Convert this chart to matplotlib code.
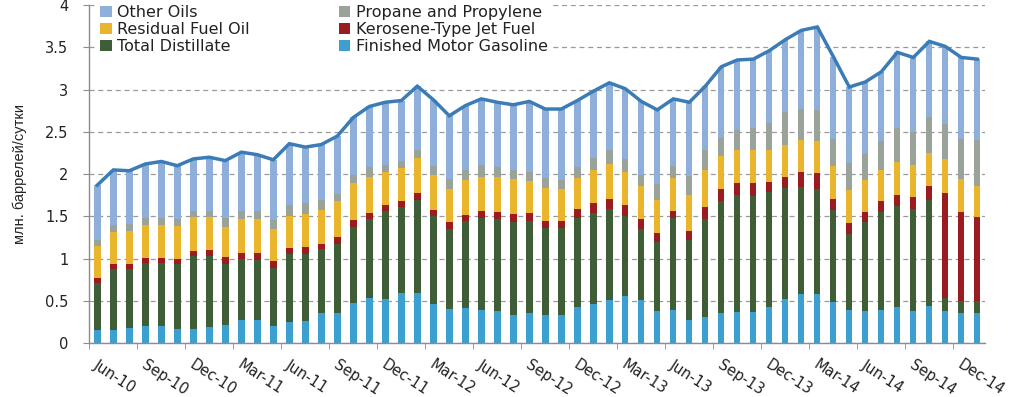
import matplotlib
matplotlib.use("Agg")
import matplotlib.pyplot as plt
import matplotlib.transforms as mtransforms
import numpy as np

months = ["Jun-10","Jul-10","Aug-10","Sep-10","Oct-10","Nov-10","Dec-10",
          "Jan-11","Feb-11","Mar-11","Apr-11","May-11","Jun-11","Jul-11","Aug-11","Sep-11","Oct-11","Nov-11","Dec-11",
          "Jan-12","Feb-12","Mar-12","Apr-12","May-12","Jun-12","Jul-12","Aug-12","Sep-12","Oct-12","Nov-12","Dec-12",
          "Jan-13","Feb-13","Mar-13","Apr-13","May-13","Jun-13","Jul-13","Aug-13","Sep-13","Oct-13","Nov-13","Dec-13",
          "Jan-14","Feb-14","Mar-14","Apr-14","May-14","Jun-14","Jul-14","Aug-14","Sep-14","Oct-14","Nov-14","Dec-14",
          "Jan-15"]

gasoline = [0.16,0.16,0.18,0.20,0.20,0.17,0.17,0.19,0.22,0.27,0.27,0.21,0.25,0.26,0.36,0.36,
            0.48,0.53,0.52,0.60,0.60,0.47,0.40,0.42,0.39,0.38,0.33,0.36,0.34,0.33,0.43,0.47,
            0.51,0.56,0.51,0.38,0.39,0.28,0.31,0.36,0.37,0.37,0.43,0.52,0.58,0.58,0.49,0.39,
            0.38,0.39,0.43,0.38,0.44,0.38,0.36,0.36]
distillate = [0.55,0.72,0.70,0.75,0.75,0.77,0.86,0.84,0.72,0.73,0.72,0.68,0.80,0.80,0.75,0.82,
              0.90,0.94,1.05,1.01,1.10,1.03,0.95,1.03,1.09,1.09,1.10,1.09,1.02,1.03,1.05,1.07,
              1.08,0.94,0.84,0.82,1.09,0.94,1.16,1.32,1.38,1.37,1.36,1.32,1.27,1.25,1.09,0.90,
              1.05,1.16,1.19,1.21,1.26,0.16,0.14,0.14]
kerosene = [0.06,0.06,0.06,0.06,0.06,0.06,0.06,0.07,0.08,0.07,0.08,0.08,0.08,0.08,0.07,0.08,
            0.08,0.07,0.07,0.07,0.08,0.08,0.08,0.07,0.08,0.08,0.10,0.09,0.09,0.09,0.11,0.12,
            0.12,0.14,0.12,0.10,0.09,0.11,0.14,0.14,0.15,0.15,0.12,0.13,0.17,0.18,0.13,0.13,
            0.12,0.13,0.13,0.14,0.16,1.24,1.05,0.99]
residual = [0.38,0.38,0.39,0.39,0.39,0.39,0.40,0.39,0.36,0.40,0.40,0.38,0.38,0.39,0.40,0.42,
            0.44,0.43,0.39,0.39,0.41,0.41,0.40,0.41,0.41,0.42,0.41,0.38,0.39,0.37,0.36,0.39,
            0.41,0.39,0.39,0.39,0.39,0.42,0.44,0.39,0.38,0.40,0.38,0.38,0.38,0.38,0.39,0.39,
            0.38,0.37,0.39,0.38,0.39,0.40,0.39,0.37]
propane = [0.07,0.08,0.08,0.08,0.08,0.08,0.08,0.08,0.10,0.10,0.10,0.11,0.13,0.13,0.11,0.09,
           0.09,0.11,0.08,0.08,0.10,0.11,0.11,0.12,0.14,0.12,0.11,0.11,0.11,0.11,0.13,0.14,
           0.16,0.15,0.13,0.19,0.14,0.23,0.23,0.22,0.24,0.25,0.32,0.38,0.37,0.37,0.32,0.32,
           0.31,0.34,0.41,0.39,0.42,0.41,0.48,0.54]
other = [0.65,0.65,0.63,0.64,0.67,0.63,0.61,0.63,0.68,0.69,0.66,0.71,0.72,0.66,0.66,0.68,
         0.68,0.72,0.74,0.72,0.75,0.78,0.75,0.76,0.78,0.76,0.77,0.83,0.82,0.84,0.79,0.79,
         0.80,0.83,0.87,0.88,0.79,0.87,0.76,0.84,0.83,0.82,0.85,0.86,0.93,0.98,0.97,0.90,
         0.85,0.82,0.89,0.88,0.90,0.92,0.96,0.96]

series = [
    ("Finished Motor Gasoline", gasoline, "#3C9FD0"),
    ("Total Distillate", distillate, "#3F5E38"),
    ("Kerosene-Type Jet Fuel", kerosene, "#9B1C20"),
    ("Residual Fuel Oil", residual, "#E8B52D"),
    ("Propane and Propylene", propane, "#9AA39A"),
    ("Other Oils", other, "#8EAFD9"),
]

label_months = months[::3][:19]

fig = plt.figure(figsize=(10.24, 3.97), dpi=100)
ax = fig.add_axes([89.3/1024, (397-343.3)/397, 896/1024, (343.3-5)/397])

x = np.arange(len(months))
bottom = np.zeros(len(months))
handles = {}
for name, vals, col in series:
    v = np.array(vals)
    h = ax.bar(x, v, width=0.4, bottom=bottom, color=col, label=name, zorder=2)
    handles[name] = h
    bottom = bottom + v
total = bottom
ax.plot(x, total, color="#3B7CB6", lw=2.5, zorder=3, solid_joinstyle="miter")

ax.set_xlim(-0.5, len(months) - 0.5)
ax.set_ylim(0, 4)
ax.set_yticks(np.arange(0, 4.01, 0.5))
ax.set_yticklabels(["0", "0.5", "1", "1.5", "2", "2.5", "3", "3.5", "4"])
ax.yaxis.grid(True, color="#9A9A9A", linestyle=(0, (4, 3)), linewidth=0.9)
ax.set_axisbelow(True)

for s in ["top", "right"]:
    ax.spines[s].set_visible(False)
for s in ["left", "bottom"]:
    ax.spines[s].set_color("#8C8C8C")
    ax.spines[s].set_linewidth(1.0)

ax.tick_params(axis="y", direction="out", length=4, color="#8C8C8C", pad=11,
               labelsize=10.5, labelcolor="#222222")

ax.set_xticks(np.arange(-0.5, len(months), 3), minor=True)
ax.set_xticks(x[::3][:19])
ax.set_xticklabels(label_months, rotation=-33, ha="left", va="top",
                   rotation_mode="anchor", fontsize=10.5, color="#222222")
ax.tick_params(axis="x", which="major", length=0, pad=10)
ax.tick_params(axis="x", which="minor", length=4, color="#8C8C8C", direction="out")
offset = mtransforms.ScaledTranslation(0.02, 0, fig.dpi_scale_trans)
for lab in ax.get_xticklabels():
    lab.set_transform(lab.get_transform() + offset)

ax.set_ylabel("млн. баррелей/сутки", fontsize=10.5, family="Liberation Sans",
              color="#222222", labelpad=13)

order = ["Other Oils", "Residual Fuel Oil", "Total Distillate",
         "Propane and Propylene", "Kerosene-Type Jet Fuel", "Finished Motor Gasoline"]
leg = ax.legend([handles[n] for n in order], order, ncol=2, loc="upper left",
                bbox_to_anchor=(98/1024, 1.0 - 3/397), bbox_transform=fig.transFigure,
                frameon=True, facecolor="white", edgecolor="none", framealpha=1,
                fancybox=False, fontsize=11.5, handlelength=0.7, handleheight=0.7,
                handletextpad=0.35, labelspacing=0.12, columnspacing=5.6,
                borderpad=0.15, borderaxespad=0)
for t in leg.get_texts():
    t.set_color("#222222")
leg.set_zorder(5)

fig.savefig("out.png", dpi=100)
